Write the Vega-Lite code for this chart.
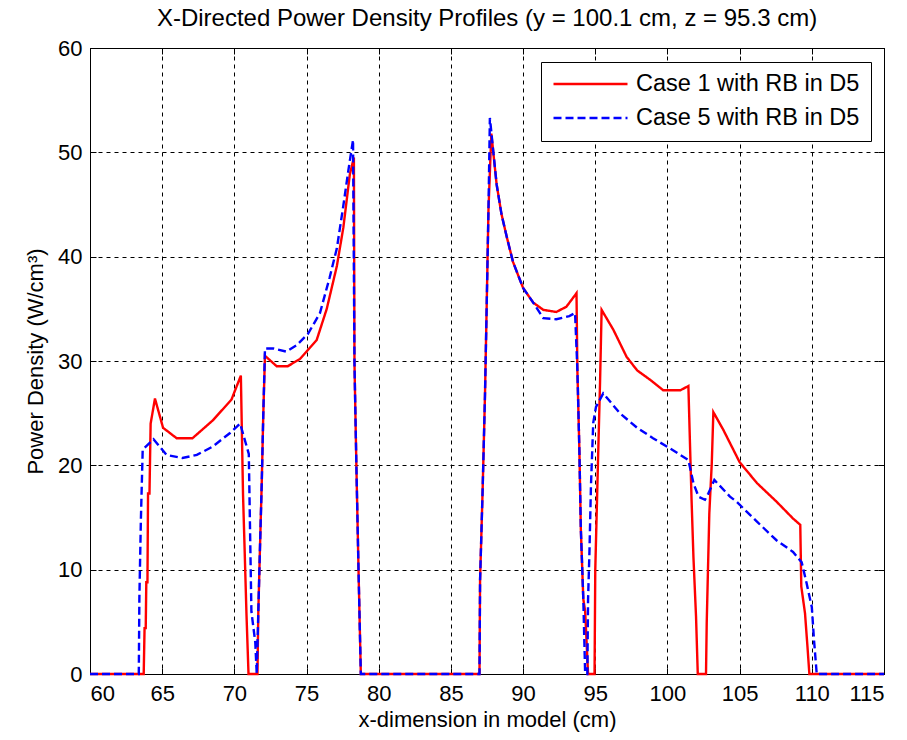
{
  "$schema": "https://vega.github.io/schema/vega-lite/v6.json",
  "autosize": "none",
  "width": 794,
  "height": 626,
  "padding": {"left": 90, "top": 48, "right": 23, "bottom": 66},
  "background": "white",
  "title": {"text": "X-Directed Power Density Profiles (y = 100.1 cm, z = 95.3 cm)", "font": "Liberation Sans", "fontSize": 24, "fontWeight": "normal", "color": "black", "offset": 6, "anchor": "middle"},
  "datasets": {
    "red": [
      {"x":60,"y":0},{"x":63.72,"y":0},{"x":63.78,"y":4.4},{"x":63.86,"y":4.4},{"x":63.9,"y":8.8},{"x":63.98,"y":8.8},{"x":64.02,"y":17.3},{"x":64.12,"y":17.3},{"x":64.2,"y":24},{"x":64.5,"y":26.4},{"x":65.06,"y":23.6},{"x":66.0,"y":22.6},{"x":67.1,"y":22.6},{"x":68.5,"y":24.3},{"x":69.8,"y":26.3},{"x":70.45,"y":28.6},{"x":70.6,"y":17.2},{"x":70.72,"y":11.5},{"x":70.84,"y":5.7},{"x":70.98,"y":0},{"x":71.6,"y":0},{"x":71.66,"y":6},{"x":71.78,"y":12.4},{"x":71.9,"y":18.5},{"x":72.0,"y":24.7},{"x":72.12,"y":30.5},{"x":72.93,"y":29.5},{"x":73.7,"y":29.5},{"x":74.55,"y":30.2},{"x":75.7,"y":32.0},{"x":76.4,"y":35.0},{"x":77.1,"y":39.1},{"x":77.55,"y":42.8},{"x":78.0,"y":47.9},{"x":78.28,"y":49.5},{"x":78.32,"y":29.8},{"x":78.45,"y":20.1},{"x":78.6,"y":10},{"x":78.76,"y":0},{"x":86.98,"y":0},{"x":87.02,"y":9.0},{"x":87.2,"y":17.8},{"x":87.36,"y":26.7},{"x":87.48,"y":35.4},{"x":87.6,"y":44.4},{"x":87.8,"y":51.8},{"x":88.17,"y":46.9},{"x":88.5,"y":44.1},{"x":88.85,"y":42},{"x":89.3,"y":39.5},{"x":90.0,"y":37.0},{"x":90.7,"y":35.6},{"x":91.4,"y":34.9},{"x":92.3,"y":34.7},{"x":93.0,"y":35.2},{"x":93.7,"y":36.5},{"x":93.76,"y":29.2},{"x":93.9,"y":21.4},{"x":94.0,"y":13.9},{"x":94.17,"y":7.2},{"x":94.3,"y":6},{"x":94.5,"y":0},{"x":94.95,"y":0},{"x":95.0,"y":10},{"x":95.2,"y":21.0},{"x":95.33,"y":27.9},{"x":95.44,"y":34.9},{"x":96.25,"y":33.0},{"x":97.17,"y":30.4},{"x":97.9,"y":29.1},{"x":98.8,"y":28.2},{"x":99.7,"y":27.2},{"x":100.9,"y":27.2},{"x":101.45,"y":27.6},{"x":101.56,"y":22.1},{"x":101.67,"y":16.7},{"x":101.8,"y":11.2},{"x":101.98,"y":5.5},{"x":102.1,"y":0},{"x":102.67,"y":0},{"x":102.72,"y":4.9},{"x":102.9,"y":15.4},{"x":103.07,"y":20.2},{"x":103.18,"y":25.1},{"x":103.87,"y":23.4},{"x":105.0,"y":20.3},{"x":106.2,"y":18.3},{"x":107.57,"y":16.5},{"x":108.7,"y":14.9},{"x":109.2,"y":14.3},{"x":109.27,"y":8.4},{"x":109.53,"y":5.8},{"x":109.7,"y":2.6},{"x":109.83,"y":0},{"x":115,"y":0}
    ],
    "blue": [
      {"x":60,"y":0},{"x":63.38,"y":0},{"x":63.42,"y":7.3},{"x":63.52,"y":14.5},{"x":63.65,"y":21.5},{"x":64.4,"y":22.5},{"x":65.3,"y":21.0},{"x":66.4,"y":20.7},{"x":67.4,"y":21.0},{"x":68.5,"y":21.8},{"x":69.7,"y":23.1},{"x":70.4,"y":24.0},{"x":71.0,"y":21.1},{"x":71.18,"y":6},{"x":71.45,"y":3},{"x":71.55,"y":0},{"x":71.66,"y":6},{"x":71.78,"y":12.4},{"x":71.9,"y":18.5},{"x":72.0,"y":24.7},{"x":72.12,"y":31.2},{"x":72.7,"y":31.2},{"x":73.6,"y":30.9},{"x":74.3,"y":31.5},{"x":75.1,"y":32.6},{"x":75.93,"y":34.6},{"x":76.6,"y":38.0},{"x":77.1,"y":40.8},{"x":77.55,"y":44.9},{"x":77.9,"y":48.3},{"x":78.22,"y":51.2},{"x":78.32,"y":29.8},{"x":78.45,"y":20.1},{"x":78.6,"y":10},{"x":78.76,"y":0},{"x":86.98,"y":0},{"x":87.02,"y":9.0},{"x":87.2,"y":17.8},{"x":87.36,"y":26.7},{"x":87.48,"y":35.4},{"x":87.6,"y":44.4},{"x":87.7,"y":53.3},{"x":88.17,"y":46.9},{"x":88.5,"y":44.1},{"x":88.85,"y":42},{"x":89.3,"y":39.5},{"x":90.0,"y":37.0},{"x":90.7,"y":35.6},{"x":91.4,"y":34.1},{"x":92.3,"y":34.0},{"x":93.2,"y":34.3},{"x":93.6,"y":34.6},{"x":93.76,"y":29.2},{"x":93.9,"y":21.4},{"x":94.0,"y":13.9},{"x":94.17,"y":7.2},{"x":94.3,"y":0},{"x":94.45,"y":0},{"x":94.5,"y":7.1},{"x":94.6,"y":11.9},{"x":94.7,"y":18.0},{"x":94.86,"y":24.1},{"x":95.05,"y":25.6},{"x":95.55,"y":26.9},{"x":96.7,"y":25.0},{"x":97.9,"y":23.6},{"x":99.0,"y":22.6},{"x":100.2,"y":21.6},{"x":101.45,"y":20.5},{"x":101.8,"y":18.3},{"x":102.15,"y":17.0},{"x":102.6,"y":16.7},{"x":102.83,"y":17.3},{"x":103.25,"y":18.6},{"x":104.33,"y":17.0},{"x":104.8,"y":16.5},{"x":106.2,"y":14.6},{"x":107.57,"y":12.8},{"x":108.7,"y":11.7},{"x":109.3,"y":10.7},{"x":109.64,"y":8.7},{"x":110.0,"y":6.4},{"x":110.15,"y":3.3},{"x":110.34,"y":0},{"x":115,"y":0}
    ]
  },
  "resolve": {"axis": {"x": "independent", "y": "independent"}},
  "layer": [
    {
      "data": {"name": "red"},
      "transform": [{"calculate": "'Case 1 with RB in D5'", "as": "c"}],
      "mark": {"type": "line", "strokeWidth": 2.4, "interpolate": "linear"},
      "encoding": {
        "x": {"field": "x", "type": "quantitative", "scale": {"domain": [60, 115], "nice": false, "zero": false}, "axis": {"title": "x-dimension in model (cm)", "values": [60,65,70,75,80,85,90,95,100,105,110,115], "ticks": true, "tickSize": -6, "labelPadding": 15}},
        "y": {"field": "y", "type": "quantitative", "scale": {"domain": [0, 60], "nice": false}, "axis": {"title": "Power Density (W/cm\u00b3)", "values": [0,10,20,30,40,50,60], "ticks": true, "tickSize": -6, "labelPadding": 14}},
        "color": {"field": "c", "type": "nominal", "scale": {"domain": ["Case 1 with RB in D5", "Case 5 with RB in D5"], "range": ["#FF0000", "#0000FF"]}, "legend": {"title": null}},
        "strokeDash": {"field": "c", "type": "nominal", "scale": {"domain": ["Case 1 with RB in D5", "Case 5 with RB in D5"], "range": [[1, 0], [8, 4]]}, "legend": {"title": null}}
      }
    },
    {
      "data": {"name": "blue"},
      "transform": [{"calculate": "'Case 5 with RB in D5'", "as": "c"}],
      "mark": {"type": "line", "strokeWidth": 2.4, "interpolate": "linear"},
      "encoding": {
        "x": {"field": "x", "type": "quantitative", "axis": {"orient": "top", "title": null, "labels": false, "grid": false, "ticks": true, "tickSize": -6, "values": [60,65,70,75,80,85,90,95,100,105,110,115]}},
        "y": {"field": "y", "type": "quantitative", "axis": {"orient": "right", "title": null, "labels": false, "grid": false, "ticks": true, "tickSize": -6, "values": [0,10,20,30,40,50,60]}},
        "color": {"field": "c", "type": "nominal"},
        "strokeDash": {"field": "c", "type": "nominal"}
      }
    }
  ],
  "config": {
    "font": "Liberation Sans",
    "view": {"stroke": "black", "strokeWidth": 1},
    "axis": {
      "domain": false,
      "grid": true,
      "gridColor": "black",
      "gridDash": [4, 4],
      "gridOpacity": 1,
      "gridWidth": 1,
      "tickColor": "black",
      "tickWidth": 1,
      "labelFont": "Liberation Sans",
      "labelFontSize": 22,
      "labelColor": "black",
      "titleFont": "Liberation Sans",
      "titleFontSize": 22,
      "titleFontWeight": "normal",
      "titleColor": "black"
    },
    "axisX": {"titlePadding": 5},
    "axisY": {"titlePadding": 10},
    "legend": {
      "orient": "none",
      "legendX": 451,
      "legendY": 14,
      "direction": "vertical",
      "fillColor": "white",
      "strokeColor": "black",
      "padding": 11,
      "symbolType": "stroke",
      "symbolSize": 5476,
      "symbolStrokeWidth": 2.5,
      "clipHeight": 22,
      "labelOffset": 7,
      "labelFont": "Liberation Sans",
      "labelFontSize": 23.5,
      "labelColor": "black",
      "labelLimit": 400,
      "rowPadding": 10
    }
  }
}
